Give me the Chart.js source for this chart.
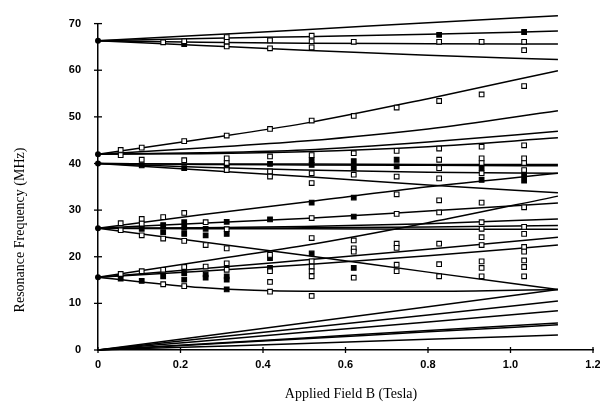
<!DOCTYPE html>
<html><head><meta charset="utf-8">
<script src="https://cdn.jsdelivr.net/npm/chart.js@4.4.1/dist/chart.umd.min.js"></script>
<style>html,body{margin:0;padding:0;background:#fff}</style>
</head><body>
<canvas id="c" width="600" height="407"></canvas>
<script>
// ---- axis settings ----
const xTickValues = [0, 0.2, 0.4, 0.6, 0.8, 1, 1.2];
const yTickValues = [0, 10, 20, 30, 40, 50, 60, 70];

// ---- calculated curves: frequency (MHz) at field knots (Tesla) ----
const knotB = [0, 0.25, 0.5, 0.8, 1.115];
const linesFrom66 = [
  [66.3, 67.5, 68.7, 70.2, 71.7],
  [66.3, 66.8, 67.2, 67.7, 68.4],
  [66.3, 66.0, 65.8, 65.7, 65.6],
  [66.3, 65.3, 64.3, 63.2, 62.3]
];
const linesFrom42 = [
  [42.0, 45.2, 48.6, 53.9, 59.9],
  [42.0, 43.3, 44.8, 47.4, 51.3],
  [42.0, 42.3, 42.9, 44.6, 46.9],
  [42.0, 42.1, 42.5, 43.6, 45.5]
];
const linesFrom40 = [
  [40.0, 39.9, 39.9, 39.8, 39.8],
  [40.0, 39.8, 39.7, 39.6, 39.5],
  [40.0, 39.2, 38.6, 38.1, 37.9],
  [40.0, 38.6, 37.2, 35.4, 33.7]
];
const linesFrom26 = [
  [26.1, 29.0, 31.7, 35.0, 37.9],
  [26.1, 27.2, 28.2, 29.8, 31.5],
  [26.1, 26.2, 26.5, 27.1, 28.1],
  [26.1, 26.1, 26.2, 26.4, 26.7],
  [26.1, 26.0, 26.0, 25.9, 25.9],
  [26.1, 23.2, 20.3, 16.7, 13.0]
];
const linesFrom16 = [
  [15.6, 19.0, 22.4, 27.3, 33.0],
  [15.6, 17.4, 19.3, 21.6, 24.2],
  [15.6, 16.9, 18.3, 20.2, 22.5],
  [15.6, 13.4, 12.6, 12.6, 13.0]
];
const linesFrom0 = [
  [0, 2.9, 5.8, 9.3, 13.0],
  [0, 2.4, 4.7, 7.5, 10.5],
  [0, 1.9, 3.8, 6.0, 8.4],
  [0, 1.3, 2.6, 4.2, 5.8],
  [0, 1.2, 2.4, 3.9, 5.4],
  [0, 0.7, 1.4, 2.3, 3.2]
];

// ---- measured resonances ----
const zeroFieldFreq = [66.3, 42.0, 40.0, 26.1, 15.6];
const measB = [0.055, 0.106, 0.158, 0.209, 0.261, 0.312, 0.417, 0.518, 0.62, 0.724, 0.827, 0.93, 1.033];
const openFreq = [
  [42.9, 41.8, 27.2, 25.7, 16.3],
  [43.4, 40.8, 28.1, 27.1, 24.6, 16.9],
  [66.0, 28.5, 23.9, 17.2, 14.1],
  [66.2, 44.8, 40.7, 29.4, 23.4, 17.8, 13.7],
  [27.4, 22.5, 17.9],
  [67.1, 66.1, 65.1, 46.0, 41.1, 40.1, 38.6, 25.9, 21.8, 18.6, 17.2],
  [66.4, 64.7, 47.4, 41.5, 38.3, 37.2, 20.4, 16.9, 14.6, 12.5],
  [67.4, 66.2, 64.9, 49.2, 41.8, 37.9, 35.8, 28.3, 24.0, 19.0, 17.9, 16.9, 15.8, 11.6],
  [66.1, 50.2, 42.2, 37.6, 23.5, 21.8, 21.1, 15.5],
  [52.0, 42.7, 37.2, 33.4, 29.2, 22.8, 21.9, 18.3, 16.9],
  [66.1, 53.4, 43.2, 40.8, 39.0, 36.8, 32.1, 29.5, 22.8, 18.4, 15.8],
  [66.1, 54.8, 43.6, 41.1, 40.1, 37.9, 31.6, 27.4, 26.0, 24.2, 22.5, 19.0, 17.6, 15.8],
  [66.1, 64.3, 56.6, 43.9, 41.1, 40.1, 38.6, 30.6, 26.4, 24.9, 22.1, 21.1, 19.2, 17.8, 15.8]
];
const filledFreq = [
  [15.3],
  [39.6, 26.0, 14.8],
  [26.8, 25.3, 15.8],
  [65.6, 39.0, 27.4, 26.2, 24.9, 16.5, 15.1],
  [26.0, 24.6, 16.2, 15.5],
  [39.3, 27.5, 24.9, 15.8, 15.1, 13.0],
  [39.9, 28.0, 19.7, 17.6],
  [40.7, 39.7, 31.6, 20.7],
  [40.5, 39.0, 32.7, 28.6, 17.6],
  [40.8, 39.4],
  [67.6],
  [39.0, 36.5],
  [68.2, 37.5, 36.3]
];

// ---- build datasets ----
const datasets = [];
const allLines = [...linesFrom66, ...linesFrom42, ...linesFrom40, ...linesFrom26, ...linesFrom16, ...linesFrom0];
allLines.forEach(vals => {
  datasets.push({
    data: knotB.map((b, i) => ({x: b, y: vals[i]})),
    showLine: true, borderColor: '#000', borderWidth: 1.5,
    pointRadius: 0, cubicInterpolationMode: 'monotone', order: 3, clip: false
  });
});
const openPts = [], filledPts = [];
measB.forEach((b, i) => {
  openFreq[i].forEach(f => openPts.push({x: b, y: f}));
  filledFreq[i].forEach(f => filledPts.push({x: b, y: f}));
});
datasets.push({data: openPts, pointStyle: 'rect', pointRadius: 3.3, backgroundColor: '#fff', borderColor: '#000', borderWidth: 1.1, order: 1});
datasets.push({data: filledPts, pointStyle: 'rect', pointRadius: 3.3, backgroundColor: '#000', borderColor: '#000', borderWidth: 1.1, order: 1});
datasets.push({data: zeroFieldFreq.map(f => ({x: 0, y: f})), pointStyle: 'circle', pointRadius: 3, backgroundColor: '#000', borderColor: '#000', borderWidth: 0, order: 0, clip: false});

const tickFont = {family: 'Liberation Sans', weight: 'bold', size: 11};

const decorations = {
  id: 'decorations',
  afterDraw(chart) {
    const {ctx, scales: {x, y}} = chart;
    ctx.save();
    ctx.strokeStyle = '#000';
    ctx.lineWidth = 1.3;
    x.ticks.forEach(t => {
      const px = x.getPixelForValue(t.value);
      ctx.beginPath(); ctx.moveTo(px, y.bottom - 3); ctx.lineTo(px, y.bottom + 3); ctx.stroke();
    });
    y.ticks.forEach(t => {
      const py = y.getPixelForValue(t.value);
      ctx.beginPath(); ctx.moveTo(x.left - 4, py); ctx.lineTo(x.left + 4, py); ctx.stroke();
    });
    ctx.fillStyle = '#000';
    ctx.font = '14px "Liberation Serif"';
    ctx.textAlign = 'center';
    ctx.textBaseline = 'middle';
    ctx.fillText('Applied Field B (Tesla)', 351, 394);
    ctx.translate(20, 230);
    ctx.rotate(-Math.PI / 2);
    ctx.fillText('Resonance Frequency (MHz)', 0, 0);
    ctx.restore();
  }
};

new Chart(document.getElementById('c'), {
  type: 'scatter',
  data: {datasets},
  options: {
    responsive: false, animation: false, devicePixelRatio: 1,
    layout: {padding: {top: 18, right: 7, left: 0, bottom: 0}},
    plugins: {legend: {display: false}, tooltip: {enabled: false}},
    scales: {
      x: {
        type: 'linear', min: 0, max: 1.2,
        afterBuildTicks: s => { s.ticks = xTickValues.map(v => ({value: v})); },
        afterFit: s => { s.height = 57; s.paddingRight = 0; s.paddingLeft = 0; },
        grid: {display: false, drawTicks: false},
        border: {display: true, color: '#000', width: 1.5},
        ticks: {color: '#000', font: tickFont, padding: 8, maxRotation: 0}
      },
      y: {
        type: 'linear', min: 0, max: 70,
        afterBuildTicks: s => { s.ticks = yTickValues.map(v => ({value: v})); },
        afterFit: s => { s.width = 98; },
        grid: {display: false, drawTicks: false},
        border: {display: true, color: '#000', width: 1.5},
        ticks: {color: '#000', font: tickFont, padding: 17}
      }
    }
  },
  plugins: [decorations]
});
</script>
</body></html>
